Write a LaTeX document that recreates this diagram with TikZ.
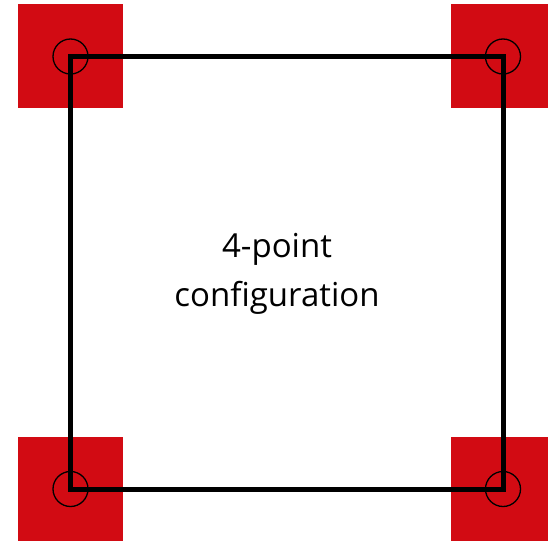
\documentclass[tikz,border=0pt]{standalone}
\usepackage{fontspec}
\setmainfont{Open Sans}
\definecolor{cornerred}{RGB}{210,11,19}
\begin{document}
\begin{tikzpicture}[x=1pt,y=-1pt,
  pad/.style={fill=cornerred,draw=none,minimum width=105pt,minimum height=104pt,inner sep=0pt,outer sep=0pt},
  ring/.style={circle,draw=black,line width=1.3pt,minimum size=35pt,inner sep=0pt},
  frame/.style={draw=black,line width=5pt,line join=miter},
  label/.style={font=\fontsize{33}{49}\selectfont,align=center,inner sep=0pt}]
\useasboundingbox (0,0) rectangle (548,540);
\clip (0,0) rectangle (548,540);
\coordinate (c1) at (70.5,56.5);
\coordinate (c2) at (503,56.5);
\coordinate (c3) at (70.5,489);
\coordinate (c4) at (503,489);
\node[pad] (p1) at (c1) {};
\node[pad] (p2) at (c2) {};
\node[pad] (p3) at (c3) {};
\node[pad] (p4) at (c4) {};
\draw[frame] (c1) -- (c2) -- (c4) -- (c3) -- cycle;
\node[ring] (r1) at (c1) {};
\node[ring] (r2) at (c2) {};
\node[ring] (r3) at (c3) {};
\node[ring] (r4) at (c4) {};
\node[label,anchor=base] (t) at (277,306.5) {4-point\\configuration};
\end{tikzpicture}
\end{document}
